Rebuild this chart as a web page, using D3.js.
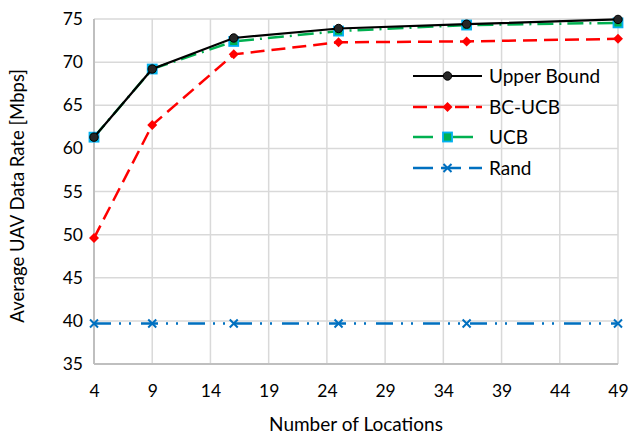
<!DOCTYPE html>
<html><head><meta charset="utf-8">
<script src="https://cdn.jsdelivr.net/npm/d3@7"></script>
<style>body{margin:0;background:#fff;} svg{display:block;font-family:Lato,"Open Sans",sans-serif;}</style>
</head><body>
<svg id="c" width="629" height="436"></svg>
<script>
const locations = [4, 9, 16, 25, 36, 49];
const upperBound = [61.3, 69.2, 72.8, 73.9, 74.4, 74.95];
const bcUcb = [49.6, 62.7, 70.9, 72.3, 72.4, 72.7];
const ucb = [61.3, 69.2, 72.4, 73.6, 74.3, 74.55];
const rand = [39.7, 39.7, 39.7, 39.7, 39.7, 39.7];
const xTicks = [4, 9, 14, 19, 24, 29, 34, 39, 44, 49];
const yTicks = [35, 40, 45, 50, 55, 60, 65, 70, 75];
const seriesNames = ["Upper Bound", "BC-UCB", "UCB", "Rand"];

const svg = d3.select("#c");
const x = d3.scaleLinear().domain([4, 49]).range([94, 618]);
const y = d3.scaleLinear().domain([35, 75]).range([364, 19]);
const FONT = "Lato,'Open Sans',sans-serif";

// grid
svg.append("g").selectAll("line.v").data(xTicks).join("line")
  .attr("x1", d => x(d)).attr("x2", d => x(d)).attr("y1", y(35)).attr("y2", y(75))
  .attr("stroke", "#d9d9d9").attr("stroke-width", 1.5);
svg.append("g").selectAll("line.h").data(yTicks).join("line")
  .attr("x1", x(4)).attr("x2", x(49)).attr("y1", d => y(d)).attr("y2", d => y(d))
  .attr("stroke", "#d9d9d9").attr("stroke-width", 1.5);
// axes lines
svg.append("line").attr("x1", x(4)).attr("x2", x(4)).attr("y1", y(35)).attr("y2", y(75))
  .attr("stroke", "#bfbfbf").attr("stroke-width", 2);
svg.append("line").attr("x1", x(4)).attr("x2", x(49)).attr("y1", y(35)).attr("y2", y(35))
  .attr("stroke", "#bfbfbf").attr("stroke-width", 2);

// tick labels
const xa = svg.append("g").attr("transform", `translate(0,${y(35)})`)
  .call(d3.axisBottom(x).tickValues(xTicks).tickSize(0).tickPadding(21).tickFormat(d3.format("d")));
xa.select(".domain").remove();
xa.selectAll("text").attr("font-size", 17.5).attr("fill", "#000").attr("font-family", FONT);
const ya = svg.append("g").attr("transform", `translate(${x(4)},0)`)
  .call(d3.axisLeft(y).tickValues(yTicks).tickSize(0).tickPadding(11).tickFormat(d3.format("d")));
ya.select(".domain").remove();
ya.selectAll("text").attr("font-size", 17.5).attr("fill", "#000").attr("font-family", FONT);

// axis titles
svg.append("text").attr("x", 356).attr("y", 431).attr("text-anchor", "middle")
  .attr("font-size", 19).text("Number of Locations");
svg.append("text").attr("transform", `translate(24,${y(54.5)}) rotate(-90)`).attr("text-anchor", "middle")
  .attr("font-size", 18.5).text("Average UAV Data Rate [Mbps]");

const styles = [
  {vals: upperBound, color: "#000000", dash: null, w: 2.2, marker: "circle", legDash: null, legEnd: 482},
  {vals: bcUcb, color: "#ff0000", dash: "14,7", w: 2.5, marker: "diamond", legDash: "14,7", legEnd: 482},
  {vals: ucb, color: "#00b050", dash: "16,6,2,6", w: 2.5, marker: "square", legDash: "20,20", legEnd: 473},
  {vals: rand, color: "#0070c0", dash: "17,8,2,8,2,10", w: 2.5, marker: "x", legDash: "20,8", legEnd: 482}
];
const line = d3.line().x(d => x(d[0])).y(d => y(d[1]));

function drawMarker(g, type, cx, cy) {
  if (type === "circle") {
    g.append("circle").attr("cx", cx).attr("cy", cy).attr("r", 4.2).attr("fill", "#262626").attr("stroke", "#000").attr("stroke-width", 1);
  } else if (type === "diamond") {
    g.append("path").attr("d", `M${cx},${cy-5}L${cx+5},${cy}L${cx},${cy+5}L${cx-5},${cy}Z`).attr("fill", "#ff0000");
  } else if (type === "square") {
    g.append("rect").attr("x", cx-4.5).attr("y", cy-4.5).attr("width", 9).attr("height", 9)
      .attr("fill", "#00b050").attr("stroke", "#00b0f0").attr("stroke-width", 1.8);
  } else if (type === "x") {
    g.append("path").attr("d", `M${cx-4},${cy-4}L${cx+4},${cy+4}M${cx-4},${cy+4}L${cx+4},${cy-4}`)
      .attr("stroke", "#0070c0").attr("stroke-width", 2);
  }
}

// draw series (Rand first so others on top)
[3, 1, 2, 0].forEach(i => {
  const s = styles[i];
  const pts = locations.map((l, j) => [l, s.vals[j]]);
  svg.append("path").attr("d", line(pts)).attr("fill", "none").attr("stroke", s.color)
    .attr("stroke-width", s.w).attr("stroke-dasharray", s.dash);
  const g = svg.append("g");
  pts.forEach(p => drawMarker(g, s.marker, x(p[0]), y(p[1])));
});

// legend
const legY = [76, 107, 137, 168];
seriesNames.forEach((name, i) => {
  const s = styles[i];
  const g = svg.append("g");
  g.append("line").attr("x1", 413).attr("x2", s.legEnd).attr("y1", legY[i]).attr("y2", legY[i])
    .attr("stroke", s.color).attr("stroke-width", s.w)
    .attr("stroke-dasharray", s.legDash);
  drawMarker(g, s.marker, 447.5, legY[i]);
  g.append("text").attr("x", 489).attr("y", legY[i]).attr("dy", "0.35em").attr("font-size", 19).text(name);
});
</script>
</body></html>
